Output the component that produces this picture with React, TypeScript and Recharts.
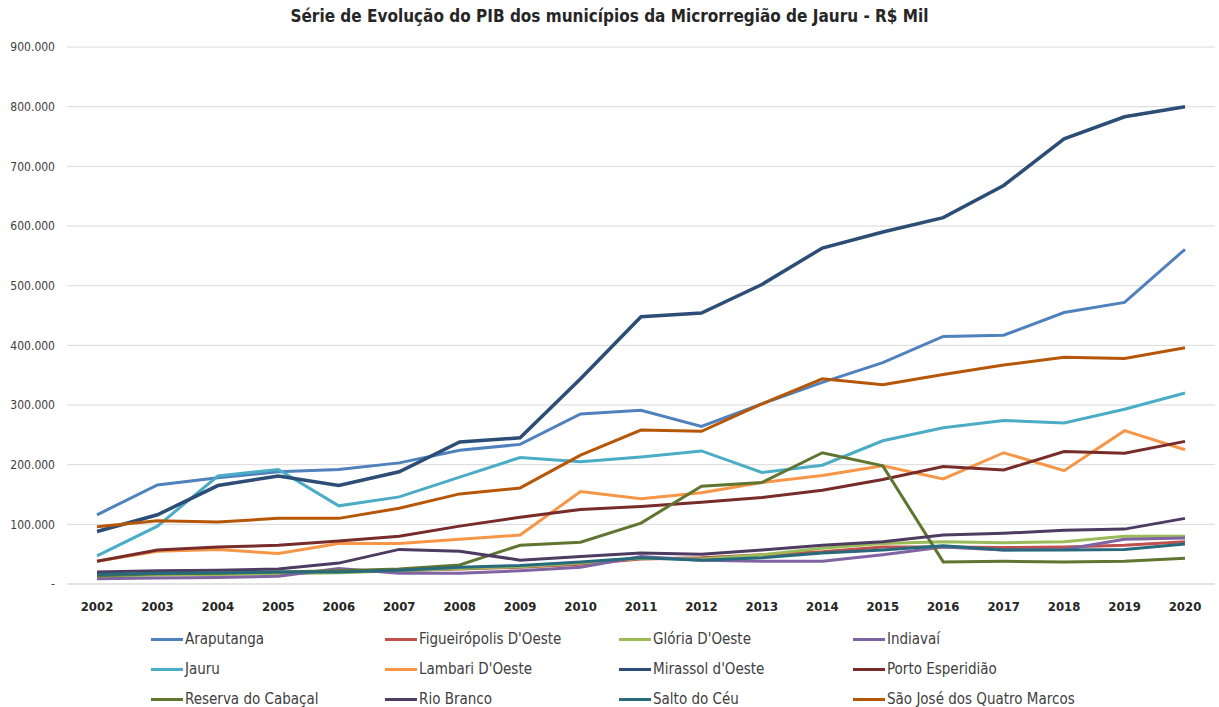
import React from 'react';
import { LineChart, Line, XAxis, YAxis, CartesianGrid } from 'recharts';

// PIB (R$ Mil), values in thousands: 116 => 116.000
const years = ['2002', '2003', '2004', '2005', '2006', '2007', '2008', '2009', '2010', '2011', '2012', '2013', '2014', '2015', '2016', '2017', '2018', '2019', '2020'];

const araputanga = [116, 166, 178, 188, 192, 203, 224, 234, 285, 291, 264, 302, 338, 371, 415, 417, 455, 472, 561];
const figueiropolis = [14, 17, 18, 19, 20, 22, 25, 28, 33, 42, 44, 49, 54, 62, 62, 61, 62, 65, 71];
const gloria = [13, 15, 16, 17, 19, 22, 26, 29, 35, 43, 42, 49, 60, 68, 71, 69, 71, 80, 80];
const indiavai = [9, 10, 11, 13, 26, 18, 18, 22, 28, 46, 40, 38, 38, 49, 62, 57, 58, 75, 77];
const jauru = [47, 97, 181, 192, 131, 146, 179, 212, 205, 213, 223, 187, 199, 240, 262, 274, 270, 293, 320];
const lambari = [38, 55, 58, 51, 68, 68, 75, 82, 155, 143, 153, 170, 182, 198, 176, 220, 190, 257, 225];
const mirassol = [88, 116, 165, 181, 165, 188, 238, 245, 344, 448, 454, 502, 563, 590, 614, 668, 746, 783, 800];
const porto = [38, 57, 62, 65, 72, 80, 97, 112, 125, 130, 137, 145, 157, 175, 197, 191, 222, 219, 239];
const reserva = [14, 17, 18, 20, 22, 25, 32, 65, 70, 102, 164, 170, 220, 198, 37, 38, 37, 38, 43];
const rioBranco = [20, 22, 23, 25, 35, 58, 55, 40, 46, 52, 50, 57, 65, 71, 82, 85, 90, 92, 110];
const saltoDoCeu = [16, 18, 19, 20, 20, 23, 28, 31, 37, 44, 40, 44, 52, 57, 64, 57, 57, 58, 67];
const saoJose = [96, 106, 104, 110, 110, 127, 151, 161, 216, 258, 256, 302, 344, 334, 351, 367, 380, 378, 396];

const yTicks = [0, 100, 200, 300, 400, 500, 600, 700, 800, 900];

const series = [
  { key: 'araputanga', name: 'Araputanga', values: araputanga, color: '#4F81BD' },
  { key: 'figueiropolis', name: "Figueirópolis D'Oeste", values: figueiropolis, color: '#C0504D' },
  { key: 'gloria', name: "Glória D'Oeste", values: gloria, color: '#9BBB59' },
  { key: 'indiavai', name: 'Indiavaí', values: indiavai, color: '#8064A2' },
  { key: 'jauru', name: 'Jauru', values: jauru, color: '#4BACC6' },
  { key: 'lambari', name: "Lambari D'Oeste", values: lambari, color: '#F79646' },
  { key: 'mirassol', name: "Mirassol d'Oeste", values: mirassol, color: '#2C4D75' },
  { key: 'porto', name: 'Porto Esperidião', values: porto, color: '#772C2A' },
  { key: 'reserva', name: 'Reserva do Cabaçal', values: reserva, color: '#5F7530' },
  { key: 'rioBranco', name: 'Rio Branco', values: rioBranco, color: '#4D3B62' },
  { key: 'saltoDoCeu', name: 'Salto do Céu', values: saltoDoCeu, color: '#276A7C' },
  { key: 'saoJose', name: 'São José dos Quatro Marcos', values: saoJose, color: '#B65708' },
];

const data = years.map((year, i) => {
  const row: Record<string, string | number> = { year };
  series.forEach(s => { row[s.key] = s.values[i]; });
  return row;
});

const font = '"DejaVu Sans Condensed", "Liberation Sans", sans-serif';

const formatY = (v: number) => (v === 0 ? '-' : `${v}.000`);

export default function App() {
  return (
    <div style={{ position: 'absolute', left: 0, top: 0, width: 1219, height: 707, background: '#fff', fontFamily: font }}>
      <div style={{ position: 'absolute', left: 0, top: 6, width: 1219, textAlign: 'center', fontSize: 17, fontWeight: 'bold', color: '#262626' }}>
        Série de Evolução do PIB dos municípios da Microrregião de Jauru - R$ Mil
      </div>
      <div style={{ position: 'absolute', left: 0, top: 0 }}>
        <LineChart width={1219} height={620} data={data} margin={{ top: 47, right: 4, left: 0, bottom: 6 }}>
          <CartesianGrid vertical={false} stroke="#D9D9D9" strokeWidth={1} />
          <XAxis
            dataKey="year"
            axisLine={{ stroke: '#D9D9D9' }}
            tickLine={false}
            tickSize={6}
            tickMargin={12}
            height={30}
            padding={{ left: 30, right: 30 }}
            tick={{ fontSize: 13, fontWeight: 'bold', fill: '#262626', fontFamily: font }}
            interval={0}
          />
          <YAxis
            domain={[0, 900]}
            ticks={yTicks}
            width={67}
            axisLine={false}
            tickLine={false}
            tickSize={6}
            tickMargin={6}
            tickFormatter={formatY}
            tick={{ fontSize: 12, fill: '#404040', fontFamily: font }}
          />
          {series.map(s => (
            <Line
              key={s.key}
              type="linear"
              dataKey={s.key}
              name={s.name}
              stroke={s.color}
              strokeWidth={s.key === 'mirassol' ? 3.5 : 3}
              dot={false}
              isAnimationActive={false}
            />
          ))}
        </LineChart>
      </div>
      {series.map((s, i) => {
        const col = i % 4;
        const row = Math.floor(i / 4);
        return (
          <div
            key={s.key}
            style={{ position: 'absolute', left: 151 + col * 234, top: 629 + row * 30, height: 20, display: 'flex', alignItems: 'center', fontSize: 15, color: '#404040' }}
          >
            <span style={{ display: 'inline-block', width: 32, height: 3, background: s.color, marginRight: 2 }} />
            <span>{s.name}</span>
          </div>
        );
      })}
    </div>
  );
}
